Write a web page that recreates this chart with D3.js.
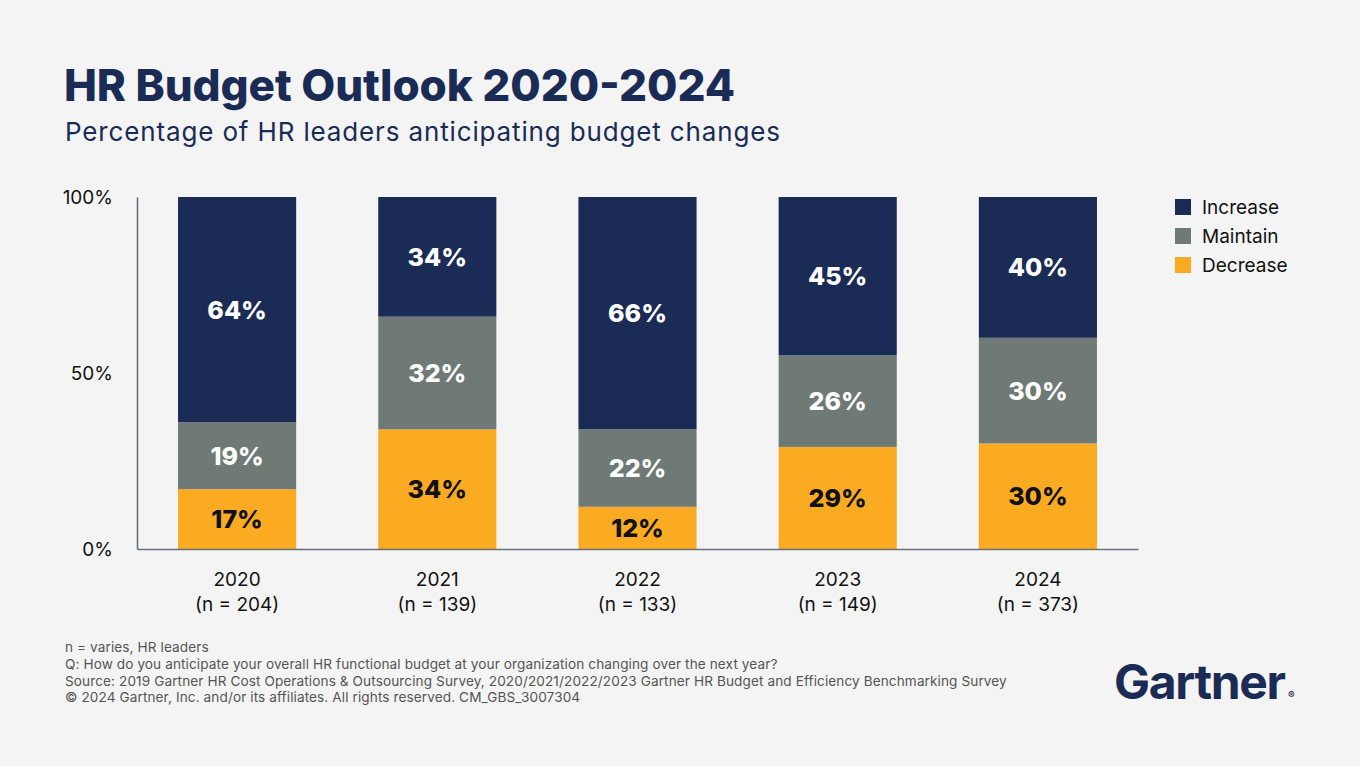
<!DOCTYPE html>
<html>
<head>
<meta charset="utf-8">
<script src="https://cdn.jsdelivr.net/npm/d3@7"></script>
<style>
  body { margin: 0; background: #f4f4f4; }
  svg { display: block; font-family: Inter, "Noto Sans", sans-serif; }
</style>
</head>
<body>
<svg id="chart"></svg>
<script>
// data
const years = ['2020', '2021', '2022', '2023', '2024']
const sampleSizes = ['(n = 204)', '(n = 139)', '(n = 133)', '(n = 149)', '(n = 373)']
const decrease = [17, 34, 12, 29, 30]
const maintain = [19, 32, 22, 26, 30]
const increase = [64, 34, 66, 45, 40]
const seriesNames = ['Decrease', 'Maintain', 'Increase']
const yTicks = [0, 50, 100]
const footnotes = [
  'n = varies, HR leaders',
  'Q: How do you anticipate your overall HR functional budget at your organization changing over the next year?',
  'Source: 2019 Gartner HR Cost Operations & Outsourcing Survey, 2020/2021/2022/2023 Gartner HR Budget and Efficiency Benchmarking Survey',
  '\u00a9 2024 Gartner, Inc. and/or its affiliates. All rights reserved. CM_GBS_3007304'
]

const colors = { Increase: '#1a2b56', Maintain: '#6f7a77', Decrease: '#fbab22' }
const labelColors = { Increase: '#ffffff', Maintain: '#ffffff', Decrease: '#111111' }

let width = 1360, height = 766
let svg = d3.select('#chart').attr('width', width).attr('height', height)

svg.append('rect').attr('width', width).attr('height', height).attr('fill', '#f4f4f4')

// title + subtitle
svg.append('text').attr('x', 64).attr('y', 101)
   .attr('font-size', 44).attr('font-weight', 800).attr('fill', '#1a2b56')
   .attr('textLength', 671).attr('lengthAdjust', 'spacing')
   .text('HR Budget Outlook 2020-2024')
svg.append('text').attr('x', 65).attr('y', 141)
   .attr('font-size', 26).attr('font-weight', 400).attr('fill', '#1a2b56')
   .attr('textLength', 715).attr('lengthAdjust', 'spacing')
   .text('Percentage of HR leaders anticipating budget changes')

let margin = { left: 137, right: 1138, top: 197, bottom: 549 }

let table = years.map((y, i) => ({ year: y, Decrease: decrease[i], Maintain: maintain[i], Increase: increase[i] }))
let stacked = d3.stack().keys(seriesNames)(table)

let x = d3.scaleBand().domain(years).range([margin.left, margin.right]).paddingInner(0.41).paddingOuter(0.205)
let y = d3.scaleLinear().domain([0, 100]).range([margin.bottom, margin.top])

// bars
let groups = svg.selectAll('g.series').data(stacked).enter()
  .append('g').attr('class', 'series').attr('fill', d => colors[d.key])

groups.selectAll('rect').data(d => d).enter()
  .append('rect')
  .attr('x', d => x(d.data.year))
  .attr('y', d => y(d[1]))
  .attr('width', x.bandwidth())
  .attr('height', d => y(d[0]) - y(d[1]))

// value labels
groups.selectAll('text').data(d => d.map(v => ({ v: v, key: d.key }))).enter()
  .append('text')
  .attr('x', d => x(d.v.data.year) + x.bandwidth() / 2)
  .attr('y', d => (y(d.v[0]) + y(d.v[1])) / 2 + 9)
  .attr('text-anchor', 'middle')
  .attr('font-size', 25).attr('font-weight', 800)
  .attr('fill', d => labelColors[d.key])
  .text(d => d.v.data[d.key] + '%')

// axes
let yAxis = d3.axisLeft(y).tickValues(yTicks).tickFormat(d => d + '%').tickSize(0).tickPadding(24)
let yg = svg.append('g').attr('transform', `translate(${margin.left},0)`).call(yAxis)
yg.select('.domain').attr('stroke', '#6b6f7a').attr('stroke-width', 1.6)
yg.selectAll('text').attr('font-size', 19).attr('fill', '#111').attr('font-family', 'Inter, sans-serif')
  .attr('dy', '0.36em')

let xAxis = d3.axisBottom(x).tickSize(0).tickFormat('')
let xg = svg.append('g').attr('transform', `translate(0,${margin.bottom})`).call(xAxis)
xg.select('.domain').attr('stroke', '#6b6f7a').attr('stroke-width', 1.6)

let xl = svg.selectAll('text.xlab').data(years).enter()
  .append('text').attr('class', 'xlab')
  .attr('text-anchor', 'middle')
  .attr('font-size', 19).attr('fill', '#111')
  .attr('x', d => x(d) + x.bandwidth() / 2)
xl.append('tspan').attr('x', d => x(d) + x.bandwidth() / 2).attr('y', 586).text(d => d)
xl.append('tspan').attr('x', d => x(d) + x.bandwidth() / 2).attr('y', 611).text((d, i) => sampleSizes[i])

// legend
let legendOrder = ['Increase', 'Maintain', 'Decrease']
let lg = svg.selectAll('g.legend').data(legendOrder).enter()
  .append('g').attr('class', 'legend')
  .attr('transform', (d, i) => `translate(1175,${199 + i * 29})`)
lg.append('rect').attr('width', 16).attr('height', 16).attr('fill', d => colors[d])
lg.append('text').attr('x', 27).attr('y', 15).attr('font-size', 19).attr('fill', '#111').text(d => d)

// footnotes
svg.selectAll('text.foot').data(footnotes).enter()
  .append('text').attr('class', 'foot')
  .attr('x', 65).attr('y', (d, i) => 652 + i * 16.8)
  .attr('font-size', 13.6).attr('fill', '#555')
  .attr('letter-spacing', 0.1)
  .text(d => d)

// logo
svg.append('text').attr('x', 1114).attr('y', 699)
   .attr('font-size', 48).attr('font-weight', 700).attr('fill', '#1a2b56')
   .attr('textLength', 172).attr('lengthAdjust', 'spacing')
   .text('Gartner')
svg.append('text').attr('x', 1288).attr('y', 699)
   .attr('font-size', 10).attr('font-weight', 700).attr('fill', '#1a2b56')
   .text('\u00ae')
</script>
</body>
</html>
